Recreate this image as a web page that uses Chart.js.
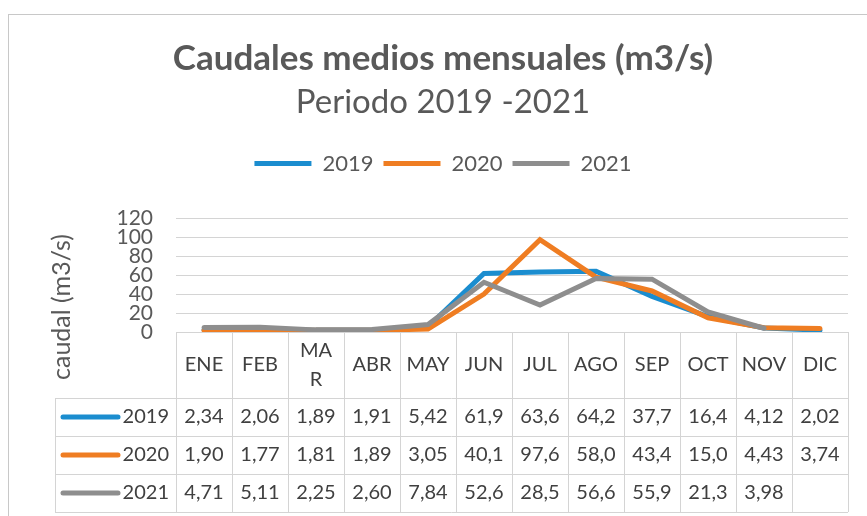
<!DOCTYPE html>
<html>
<head>
<meta charset="utf-8">
<script src="https://cdn.jsdelivr.net/npm/chart.js"></script>
<style>
  html, body { margin: 0; padding: 0; background: #fff; overflow: hidden; }
  body { width: 867px; height: 516px; position: relative; }
  #frame { position: absolute; left: 8px; top: 14px; width: 900px; height: 600px;
           border-left: 1px solid #c8c8c8; border-top: 1px solid #c8c8c8; }
  #wrap { position: absolute; left: 8px; top: 0; width: 870px; height: 516px; }
</style>
</head>
<body>
<div id="frame"></div>
<div id="wrap"><canvas id="caudalChart" width="870" height="516"></canvas></div>
<script>
var months = ['ENE', 'FEB', 'MAR', 'ABR', 'MAY', 'JUN', 'JUL', 'AGO', 'SEP', 'OCT', 'NOV', 'DIC'];
var headerLabels = ['ENE', 'FEB', 'MA\nR', 'ABR', 'MAY', 'JUN', 'JUL', 'AGO', 'SEP', 'OCT', 'NOV', 'DIC'];
var q2019 = [2.34, 2.06, 1.89, 1.91, 5.42, 61.9, 63.6, 64.2, 37.7, 16.4, 4.12, 2.02];
var q2020 = [1.90, 1.77, 1.81, 1.89, 3.05, 40.1, 97.6, 58.0, 43.4, 15.0, 4.43, 3.74];
var q2021 = [4.71, 5.11, 2.25, 2.60, 7.84, 52.6, 28.5, 56.6, 55.9, 21.3, 3.98, null];
var yTicks = [0, 20, 40, 60, 80, 100, 120];

var FONT = 'Lato, "Open Sans", sans-serif';
var TEXT = '#595959';
var LINE = '#d4d4d4';

function fmt(v) {
    if (v === null || v === undefined) return '';
    var s = v >= 10 ? v.toFixed(1) : v.toFixed(2);
    return s.replace('.', ',');
}

// data table under the plot + rotated axis title
var tablePlugin = {
    id: 'dataTable',
    afterDraw: function (chart) {
        var ctx = chart.ctx;
        var x = chart.scales.x;
        var area = chart.chartArea;
        var colW = x.getPixelForValue(1) - x.getPixelForValue(0);
        var top = area.bottom;
        var headH = 66, rowH = 38;
        var rowsTop = top + headH;
        var bottom = rowsTop + rowH * chart.data.datasets.length;
        var keyLeft = 47;

        ctx.save();
        ctx.strokeStyle = LINE;
        ctx.lineWidth = 1;
        ctx.beginPath();
        for (var i = 0; i <= months.length; i++) {
            var px = Math.round(area.left + i * colW) + 0.5;
            ctx.moveTo(px, top);
            ctx.lineTo(px, bottom);
        }
        ctx.moveTo(keyLeft + 0.5, rowsTop);
        ctx.lineTo(keyLeft + 0.5, bottom);
        ctx.moveTo(area.left, top + 0.5);
        ctx.lineTo(area.right, top + 0.5);
        for (var r = 0; r <= chart.data.datasets.length; r++) {
            var py = Math.round(rowsTop + r * rowH) + 0.5;
            ctx.moveTo(keyLeft, py);
            ctx.lineTo(area.right, py);
        }
        ctx.stroke();

        ctx.fillStyle = '#404040';
        ctx.font = '20px ' + FONT;
        ctx.textAlign = 'center';
        ctx.textBaseline = 'middle';
        headerLabels.forEach(function (lab, i) {
            var cx = x.getPixelForValue(i);
            var parts = lab.split('\n');
            if (parts.length === 1) {
                ctx.fillText(lab, cx, top + 33);
            } else {
                ctx.fillText(parts[0], cx, top + 19);
                ctx.fillText(parts[1], cx, top + 48);
            }
        });

        chart.data.datasets.forEach(function (ds, r) {
            var cy = rowsTop + r * rowH + rowH / 2;
            ctx.strokeStyle = ds.borderColor;
            ctx.lineWidth = 5;
            ctx.lineCap = 'round';
            ctx.beginPath();
            ctx.moveTo(keyLeft + 8, cy);
            ctx.lineTo(keyLeft + 63, cy);
            ctx.stroke();
            ctx.fillStyle = '#404040';
            ctx.textAlign = 'right';
            ctx.fillText(ds.label, area.left - 7, cy);
            ctx.textAlign = 'center';
            ds.data.forEach(function (v, i) {
                ctx.fillText(fmt(v), x.getPixelForValue(i), cy);
            });
        });

        ctx.translate(54, 307);
        ctx.rotate(-Math.PI / 2);
        ctx.fillStyle = TEXT;
        ctx.font = '25px ' + FONT;
        ctx.fillText('caudal (m3/s)', 0, 0);
        ctx.restore();
    }
};

document.addEventListener('DOMContentLoaded', function () {
    var ctx = document.getElementById('caudalChart').getContext('2d');
    var chart = new Chart(ctx, {
        type: 'line',
        plugins: [tablePlugin],
        data: {
            labels: months,
            datasets: [{
                label: '2019',
                data: q2019,
                borderColor: '#1b8dcf',
                backgroundColor: '#1b8dcf',
                borderWidth: 5,
                borderCapStyle: 'round',
                order: 3,
                fill: false
            }, {
                label: '2020',
                data: q2020,
                borderColor: '#ef7d22',
                backgroundColor: '#ef7d22',
                borderWidth: 5,
                borderCapStyle: 'round',
                order: 2,
                fill: false
            }, {
                label: '2021',
                data: q2021,
                borderColor: '#8e8e8e',
                backgroundColor: '#8e8e8e',
                borderWidth: 5,
                borderCapStyle: 'round',
                order: 1,
                fill: false
            }]
        },
        options: {
            responsive: false,
            animation: { duration: 0 },
            layout: { padding: 0 },
            elements: { point: { radius: 0, hoverRadius: 0 }, line: { tension: 0 } },
            plugins: {
                tooltip: { enabled: false },
                title: {
                    display: true,
                    text: 'Caudales medios mensuales (m3/s)',
                    color: TEXT,
                    font: { family: FONT, size: 35, weight: 'bold', lineHeight: 1.2 },
                    padding: { top: 38, bottom: 2 }
                },
                subtitle: {
                    display: true,
                    text: 'Periodo 2019 -2021',
                    color: TEXT,
                    font: { family: FONT, size: 33, weight: 'normal', lineHeight: 1.2 },
                    padding: { top: 1, bottom: 20 }
                },
                legend: {
                    display: true,
                    position: 'top',
                    labels: {
                        color: TEXT,
                        font: { family: FONT, size: 22 },
                        usePointStyle: true,
                        pointStyle: 'line',
                        pointStyleWidth: 57,
                        padding: 10,
                        sort: function (a, b) { return a.datasetIndex - b.datasetIndex; }
                    }
                }
            },
            scales: {
                x: {
                    type: 'category',
                    position: 'bottom',
                    offset: true,
                    grid: { display: false },
                    border: { display: false },
                    ticks: { display: false },
                    afterFit: function (s) { s.height = 184; }
                },
                xTop: {
                    type: 'category',
                    position: 'top',
                    grid: { display: false },
                    border: { display: false },
                    ticks: { display: false },
                    afterFit: function (s) { s.height = 34; }
                },
                y: {
                    min: 0,
                    max: 120,
                    afterBuildTicks: function (s) {
                        s.ticks = yTicks.map(function (v) { return { value: v }; });
                    },
                    grid: { color: LINE, lineWidth: 1, drawTicks: false },
                    border: { display: false },
                    ticks: {
                        color: TEXT,
                        padding: 23,
                        autoSkip: false,
                        font: { family: FONT, size: 21, lineHeight: 1 }
                    },
                    afterFit: function (s) { s.width = 168; }
                },
                yRight: {
                    position: 'right',
                    grid: { display: false },
                    border: { display: false },
                    ticks: { display: false },
                    afterFit: function (s) { s.width = 30; }
                }
            }
        }
    });
});
</script>
</body>
</html>
